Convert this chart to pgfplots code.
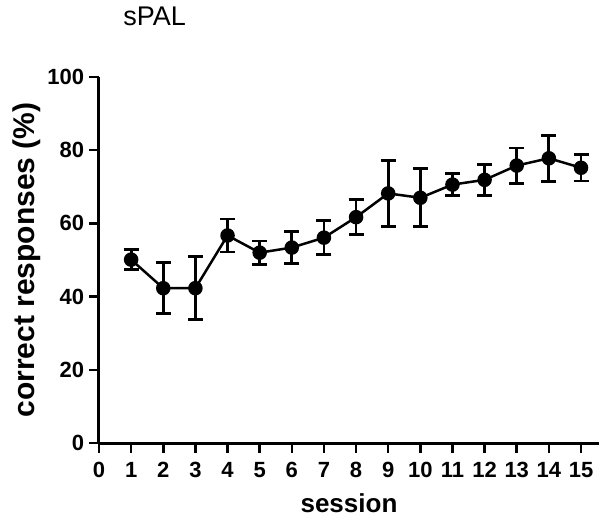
\documentclass[border=0pt]{standalone}
\usepackage{pgfplots}
\pgfplotsset{compat=1.18}
\usepackage{pgfplotstable}
\usepackage{fontspec}
\setmainfont{Liberation Sans}

\pgfplotstableread{
x y e
1 50.1 2.7
2 42.3 7.0
3 42.3 8.6
4 56.7 4.5
5 52.0 3.2
6 53.4 4.4
7 56.1 4.7
8 61.7 4.8
9 68.2 9.0
10 67.0 7.9
11 70.6 3.0
12 71.9 4.2
13 75.8 4.8
14 77.8 6.3
15 75.2 3.6
}\sessdata

\begin{document}
\begin{tikzpicture}
\begin{axis}[
  at={(0,0)}, anchor=south west,
  width=250pt, height=183pt, scale only axis,
  xmin=0, xmax=15.56, ymin=0, ymax=100,
  axis lines*=left,
  axis line style={line width=1.5pt, black},
  xtick={0,...,15}, ytick={0,20,...,100},
  tick align=outside,
  major tick length=4.75pt,
  tick style={line width=1.25pt, black},
  /pgf/number format/assume math mode=true,
  ticklabel style={font=\fontsize{11}{13}\selectfont\bfseries},
  yticklabel style={anchor=east, inner sep=0pt, xshift=-2.5pt},
  xticklabel style={anchor=north, inner sep=0pt, yshift=-4.75pt},
  every axis y label/.style={at={(rel axis cs:0,0.5)}, xshift=-36.25pt, rotate=90, anchor=center,
     font=\fontsize{15}{17}\selectfont\bfseries},
  every axis x label/.style={at={(rel axis cs:0.5,0)}, yshift=-30pt, anchor=center,
     font=\fontsize{13}{15}\selectfont\bfseries},
  ylabel={correct responses (\%)},
  xlabel={session},
  title={sPAL},
  title style={at={(rel axis cs:0,1)}, anchor=west, xshift=12pt, yshift=24.25pt,
     font=\fontsize{13.5}{15}\selectfont, inner sep=0pt},
  clip=false,
]
\addplot[black, line width=1.25pt, mark=*, mark size=3pt,
  error bars/.cd, y dir=both, y explicit,
  error bar style={line width=1.4pt, black},
  error mark options={rotate=90, mark size=3.75pt, line width=1.4pt, black}]
  table[x=x, y=y, y error=e] {\sessdata};
\end{axis}
\pgfresetboundingbox
\useasboundingbox (-49.5pt,-36.5pt) rectangle (250.5pt,221.5pt);
\end{tikzpicture}
\end{document}
